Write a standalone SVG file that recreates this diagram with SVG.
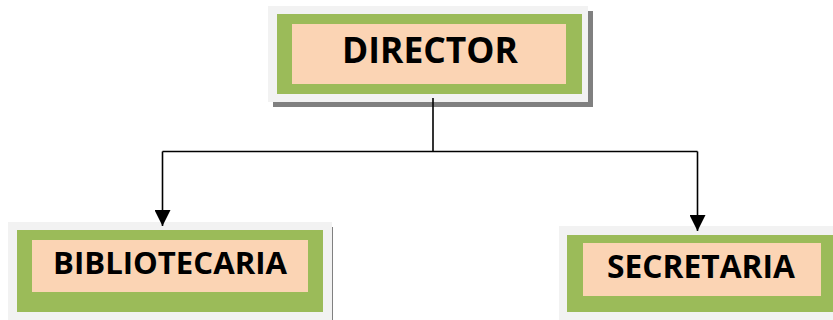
<svg xmlns="http://www.w3.org/2000/svg" width="833" height="320" viewBox="0 0 833 320">
<defs>
<style>
.frame{fill:#f2f2f2}
.shadow{fill:#808080}
.outer{fill:#9bbb59}
.inner{fill:#fbd4b4}
.lbl{font-family:"Open Sans","Liberation Sans",Arial,sans-serif;font-weight:bold;fill:#000;text-anchor:middle}
.wire{fill:none;stroke:#000;stroke-width:1.6}
</style>
<marker id="arr" markerUnits="userSpaceOnUse" markerWidth="16" markerHeight="16" refX="16" refY="8" orient="auto" viewBox="0 0 16 16">
<path d="M0,0 L16,8 L0,16 Z" fill="#000"/>
</marker>
</defs>
<g id="director">
<rect class="shadow" x="273" y="11" width="320" height="96"/>
<rect class="frame" x="268" y="6" width="320" height="96"/>
<rect class="outer" x="277" y="14" width="305" height="80"/>
<rect class="inner" x="292" y="24" width="274" height="60"/>
<text class="lbl" x="430" y="63" font-size="35" textLength="176" lengthAdjust="spacingAndGlyphs">DIRECTOR</text>
</g>
<g id="bibliotecaria">
<rect class="shadow" x="13" y="227" width="320" height="100"/>
<rect class="frame" x="8" y="222" width="324" height="100"/>
<rect class="outer" x="17" y="230" width="306" height="82"/>
<rect class="inner" x="32" y="240" width="276" height="52"/>
<text class="lbl" x="170" y="274" font-size="31" textLength="234" lengthAdjust="spacingAndGlyphs">BIBLIOTECARIA</text>
</g>
<g id="secretaria">
<rect class="frame" x="559" y="226" width="290" height="100"/>
<rect class="outer" x="567" y="235" width="280" height="77"/>
<rect class="inner" x="583" y="243" width="238" height="53"/>
<text class="lbl" x="701" y="278" font-size="32" textLength="188" lengthAdjust="spacingAndGlyphs">SECRETARIA</text>
</g>
<g id="connectors">
<path class="wire" d="M433,98 V151.5"/>
<path class="wire" d="M162.5,151.5 H697.5"/>
<path class="wire" d="M162.5,151.5 V226" marker-end="url(#arr)"/>
<path class="wire" d="M697.5,151.5 V231" marker-end="url(#arr)"/>
</g>
</svg>
